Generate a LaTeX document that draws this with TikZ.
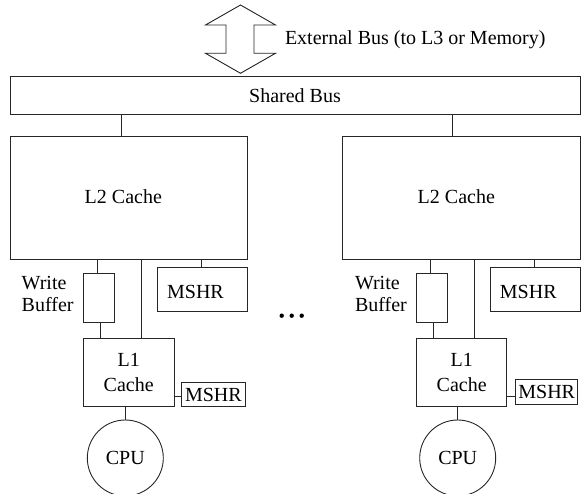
\documentclass[tikz,border=0pt]{standalone}
\usepackage{fontspec}
\setmainfont{Liberation Serif}
\begin{document}
\begin{tikzpicture}[x=1pt,y=-1pt,
  every node/.style={font=\fontsize{20}{22}\selectfont, inner sep=0pt, outer sep=0pt},
  line/.style={draw=black!85, line width=0.9pt},
  box/.style={line, rectangle},
  txt/.style={text=black},
  two/.style={align=center, font=\fontsize{20}{25}\selectfont},
  wb/.style={align=left, anchor=west, font=\fontsize{20}{22}\selectfont}]
\useasboundingbox (0,0) rectangle (581,494);

% external double arrow
\draw[line, line join=miter] (240.5,5) -- (275.5,25) -- (254,25) -- (254,53.3) -- (275.5,53.3)
  -- (240.5,73.3) -- (205.5,53.3) -- (226,53.3) -- (226,25) -- (205.5,25) -- cycle;
\node[txt, anchor=west] (ext) at (285,40) {External Bus (to L3 or Memory)};

% shared bus
\node[box, minimum width=570pt, minimum height=37.8pt] (bus) at (295,95.6) {Shared Bus};

% L2 caches
\node[box, minimum width=237.3pt, minimum height=122.3pt] (L2L) at (128.65,197.85) {};
\node[txt] (L2Lt) at (123.3,196.5) {L2 Cache};
\node[box, minimum width=237.3pt, minimum height=122.3pt] (L2R) at (461.35,197.85) {};
\node[txt] (L2Rt) at (456.3,196.5) {L2 Cache};

% write buffers
\node[box, minimum width=30.7pt, minimum height=49pt] (WBL) at (98.65,297.8) {};
\node[box, minimum width=30.7pt, minimum height=49pt] (WBR) at (431.7,297.8) {};
\node[wb] (WBLt) at (21.7,294) {Write\\Buffer};
\node[wb] (WBRt) at (355,294) {Write\\Buffer};

% L2 MSHRs
\node[box, minimum width=90pt, minimum height=43.7pt] (M2L) at (202.3,289.15) {};
\node[txt] (M2Lt) at (195.5,291.5) {MSHR};
\node[box, minimum width=90pt, minimum height=43.7pt] (M2R) at (535,289.15) {};
\node[txt] (M2Rt) at (528.3,291.5) {MSHR};

% L1 caches
\node[box, two, minimum width=90.7pt, minimum height=68.4pt] (L1L) at (128.65,372.5) {L1\\Cache};
\node[box, two, minimum width=90pt, minimum height=68.4pt] (L1R) at (461.7,372.5) {L1\\Cache};

% L1 MSHRs
\node[box, minimum width=63.3pt, minimum height=24.4pt] (M1L) at (213.35,394.5) {MSHR};
\node[box, minimum width=62pt, minimum height=25pt] (M1R) at (546.7,392) {MSHR};

% CPUs
\node[line, circle, minimum size=76pt] (CPUL) at (125.3,458) {CPU};
\node[line, circle, minimum size=76pt] (CPUR) at (457.7,458) {CPU};

% dots
\fill[black] (281.7,315.7) circle (2.2) (291.7,315.7) circle (2.2) (301.7,315.7) circle (2.2);

% connectors: bus to L2
\draw[line] ([xshift=-6.95pt]L2L.north) -- ([xshift=-6.95pt]L2L.north |- bus.south);
\draw[line] ([xshift=-9.05pt]L2R.north) -- ([xshift=-9.05pt]L2R.north |- bus.south);

% left column
\draw[line] ([xshift=-1.35pt]WBL.north) -- ([xshift=-1.35pt]WBL.north |- L2L.south);
\draw[line] ([xshift=1.35pt]WBL.south) -- ([xshift=1.35pt]WBL.south |- L1L.north);
\draw[line] ([xshift=12.35pt]L1L.north) -- ([xshift=12.35pt]L1L.north |- L2L.south);
\draw[line] ([xshift=-1.3pt]M2L.north) -- ([xshift=-1.3pt]M2L.north |- L2L.south);
\draw[line] ([yshift=-1.5pt]M1L.west) -- ([yshift=-1.5pt]M1L.west -| L1L.east);
\draw[line] (CPUL.north) -- (CPUL.north |- L1L.south);

% right column
\draw[line] ([xshift=-1pt]WBR.north) -- ([xshift=-1pt]WBR.north |- L2R.south);
\draw[line] ([xshift=1.6pt]WBR.south) -- ([xshift=1.6pt]WBR.south |- L1R.north);
\draw[line] ([xshift=12.6pt]L1R.north) -- ([xshift=12.6pt]L1R.north |- L2R.south);
\draw[line] ([xshift=-1pt]M2R.north) -- ([xshift=-1pt]M2R.north |- L2R.south);
\draw[line] ([yshift=-4pt]M1R.west) -- ([yshift=-4pt]M1R.west -| L1R.east);
\draw[line] (CPUR.north) -- (CPUR.north |- L1R.south);
\end{tikzpicture}
\end{document}
